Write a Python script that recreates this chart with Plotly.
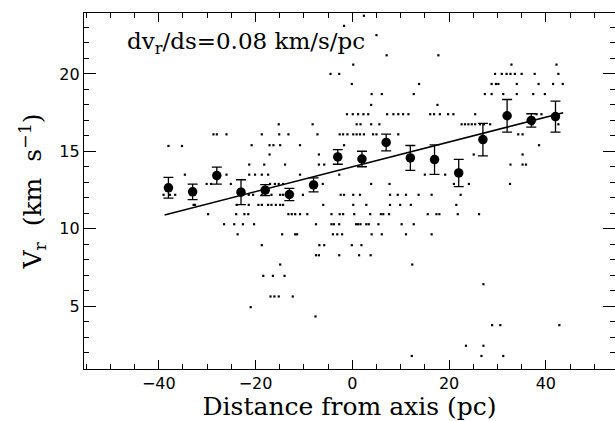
import plotly.graph_objects as go

# Binned means with errors
bin_x = [-38, -33, -28, -23, -18, -13, -8, -3, 2, 7, 12, 17, 22, 27, 32, 37, 42]
bin_y = [12.65, 12.39, 13.44, 12.37, 12.5, 12.22, 12.84, 14.64, 14.51, 15.58,
         14.58, 14.47, 13.61, 15.76, 17.3, 17.0, 17.25]
bin_err = [0.67, 0.5, 0.55, 0.8, 0.35, 0.4, 0.45, 0.47, 0.5, 0.54,
           0.8, 0.95, 0.88, 1.05, 1.05, 0.43, 1.0]

# Fitted line endpoints
fit_x = [-38.8, 43.6]
fit_y = [10.9, 17.5]

# Individual measurements, grouped by velocity row
row_y = [23.75, 23.1, 22.5, 21.2, 20.6, 20.0, 19.35, 18.7, 18.0, 17.4, 16.75, 16.1,
         15.35, 15.4, 14.8, 14.15, 13.5, 12.9, 12.2, 11.55, 10.95, 10.3, 9.65, 8.95,
         8.3, 7.7, 6.97, 6.43, 5.64, 4.95, 4.35, 3.79, 2.46, 1.8]
row_x = [
    [2.4],
    [-1.7],
    [5.0],
    [7.1, 17.8],
    [0.2, 32.9, 42.2],
    [-4.5, -2.7, 29.5, 30.9, 31.9, 32.7, 33.6, 35.0, 37.7, 42.6],
    [-0.1, 13.8, 28.8, 29.7, 30.2, 34.0, 38.5, 41.5, 43.5],
    [4.0, 6.1, 12.7, 27.4, 28.8, 31.2, 34.0, 37.4, 39.8],
    [3.9, 17.6],
    [-1.1, 0.1, 1.2, 2.3, 3.3, 7.2, 8.5, 9.5, 10.5, 11.6, 16.1, 16.9, 18.1, 19.8, 20.9,
     25.4, 38.1, 39.1],
    [-15.2, -8.2, 0.9, 1.7, 3.9, 5.6, 22.6, 23.3, 24.0, 24.7, 25.4, 26.4, 27.2, 28.5,
     37.3, 42.6],
    [-28.7, -28.0, -26.0, -18.7, -15.1, -13.2, -7.2, -2.6, -1.9, -1.0, 0.2, 0.9, 1.6,
     2.4, 4.3, 5.0, 9.5, 34.3, 35.2],
    [-38.0, -35.2],
    [-20.8, -17.1, -16.3, -14.9, -10.8, -1.7, 38.6],
    [-17.1, -6.9, 25.1, 35.2],
    [-21.3, -18.2, -13.9, -6.9, -5.8, 32.7, 35.2, 35.9],
    [-34.6, -26.0, -21.3, -20.1, -18.7, -17.4, -10.8, -2.7, 15.0, 19.2],
    [-30.1, -29.2, -25.1, -17.0, -16.0, -15.2, -14.3, -6.1, 3.9, 7.7, 21.0, 24.1, 32.6],
    [-39.0, -37.7, -36.6, -21.4, -20.5, -18.7, -16.7, -14.9, -14.3, -10.2, -2.4, -1.7,
     0.2, 1.6, 7.8, 9.4, 11.1, 13.7, 16.4, 22.4],
    [-32.8, -32.5, -23.9, -21.4, -19.4, -18.7, -17.4, -16.7, -15.8, -14.9, -14.3, -6.0,
     0.2, 2.9, 7.8, 9.9, 12.1, 21.5],
    [-29.8, -24.0, -22.3, -21.5, -13.2, -12.5, -11.8, -10.8, -9.3, -4.3, -2.6, -1.9,
     0.4, 3.7, 5.9, 6.4, 7.6, 15.6, 17.4, 18.0, 21.8, 26.2],
    [-26.5, -24.4, -22.6, -20.3, -7.5, -4.3, -3.8, -2.7, 0.8, 1.2, 1.7, 2.9, 3.4, 5.4,
     10.2, 12.7],
    [-23.7, -14.5, -11.8, -11.4, -4.0, -3.1, -2.1, 4.0, 6.1, 11.1, 16.4],
    [-18.7, -6.8, -5.8, -0.1, 1.9],
    [-7.5, -6.9, -2.7, 1.4, 3.8],
    [-14.9, 12.4],
    [-18.4, -16.4, -14.0],
    [27.1],
    [-16.9, -16.1, -15.2, -12.3],
    [-21.0],
    [-7.6],
    [28.9, 30.6, 42.8],
    [23.5, 27.1],
    [12.3, 26.7, 31.2],
]

x_tickvals = [-40, -20, 0, 20, 40]
y_tickvals = [5, 10, 15, 20]

dot_x = [x for xs in row_x for x in xs]
dot_y = [y for y, xs in zip(row_y, row_x) for _ in xs]

fig = go.Figure()
fig.add_trace(go.Scatter(x=dot_x, y=dot_y, mode="markers",
                         marker=dict(size=2.2, color="black", symbol="square"),
                         hoverinfo="skip"))
fig.add_trace(go.Scatter(x=fit_x, y=fit_y, mode="lines",
                         line=dict(color="black", width=1.6)))
fig.add_trace(go.Scatter(x=bin_x, y=bin_y, mode="markers",
                         marker=dict(size=9.5, color="black"),
                         error_y=dict(type="data", array=bin_err, visible=True,
                                      color="black", thickness=1.3, width=5)))

tickfont = dict(family="DejaVu Sans, sans-serif", size=16, color="black")
titlefont = dict(family="DejaVu Serif, serif", size=25, color="black")
nb = "\u00a0"

fig.update_layout(
    width=615, height=421,
    margin=dict(l=84, r=0, t=13, b=52),
    paper_bgcolor="white", plot_bgcolor="white",
    showlegend=False,
    xaxis=dict(range=[-55.45, 54.3], tickvals=x_tickvals, ticks="inside", ticklen=9,
               tickwidth=1, tickcolor="black", mirror="ticks", showline=True,
               linecolor="black", linewidth=1.2, showgrid=False, zeroline=False,
               tickfont=tickfont,
               minor=dict(dtick=5, tick0=0, ticks="inside", ticklen=4.5,
                          tickcolor="black", showgrid=False),
               title=dict(text="Distance from axis (pc)", font=titlefont, standoff=2)),
    yaxis=dict(range=[0.96, 23.93], tickvals=y_tickvals, ticks="inside", ticklen=12,
               tickwidth=1, tickcolor="black", mirror="ticks", showline=True,
               linecolor="black", linewidth=1.2, showgrid=False, zeroline=False,
               tickfont=tickfont,
               minor=dict(dtick=1, tick0=0, ticks="inside", ticklen=5,
                          tickcolor="black", showgrid=False),
               title=dict(text="V<sub>r</sub>" + nb + " (km" + nb + " s<sup>\u22121</sup>)",
                          font=titlefont, standoff=10)),
    annotations=[dict(x=0.077, y=0.916, xref="paper", yref="paper",
                      xanchor="left", yanchor="middle", showarrow=False,
                      text="dv<sub>r</sub>/ds=0.08 km/s/pc",
                      font=dict(family="DejaVu Serif, serif", size=23, color="black"))],
)

fig.write_html("out.html")
